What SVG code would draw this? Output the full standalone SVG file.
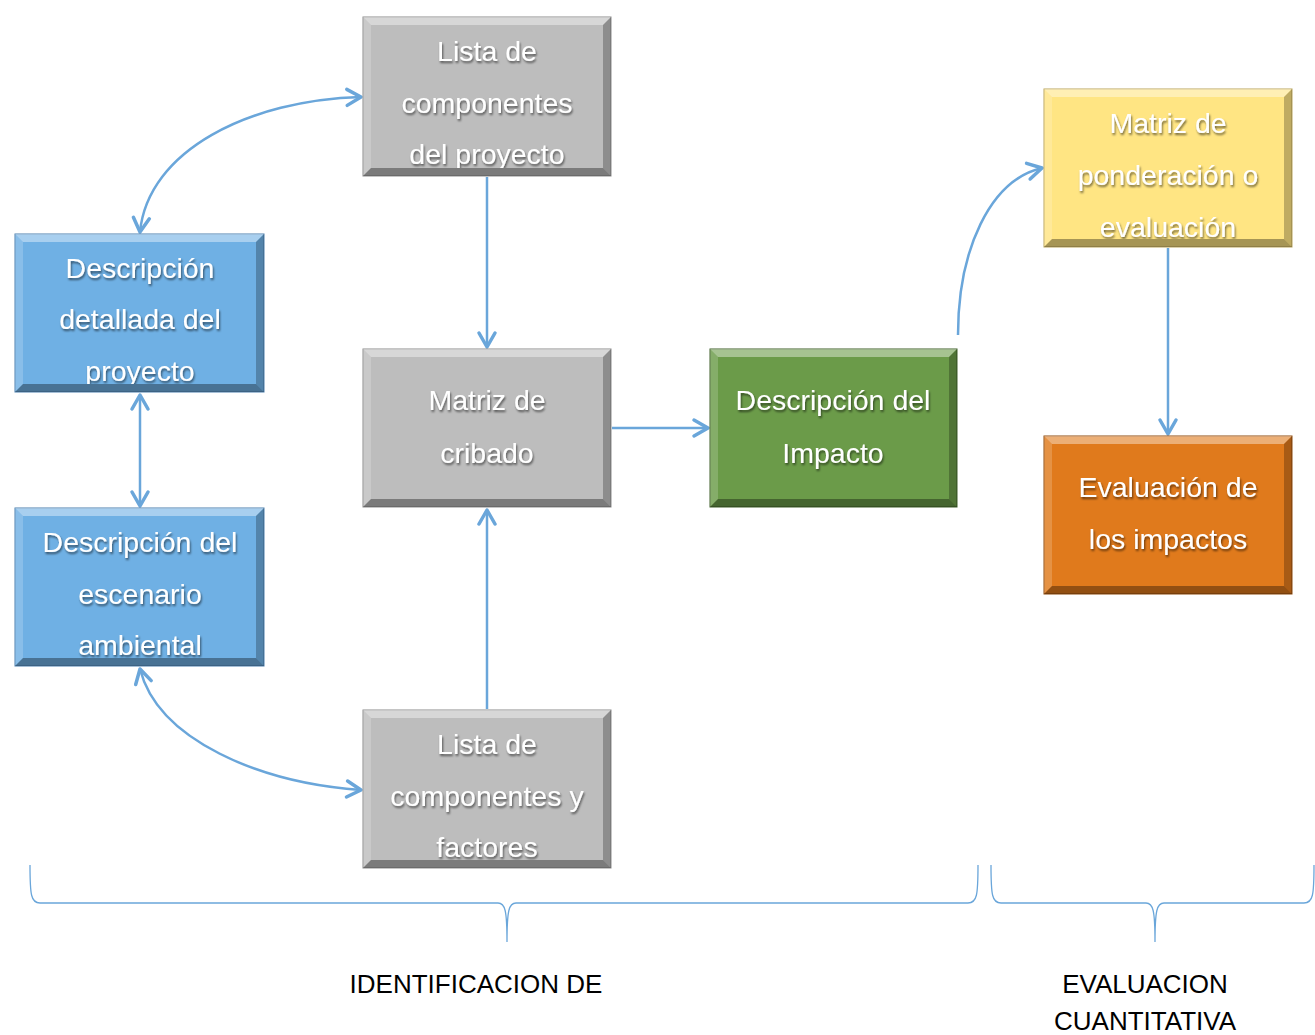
<svg xmlns="http://www.w3.org/2000/svg" width="1315" height="1035" viewBox="0 0 1315 1035">
<style>
.lbl{font-family:"Liberation Sans",Arial,sans-serif;font-size:28.5px;fill:#ffffff;text-anchor:middle;filter:url(#ts)}
.cap{font-family:"Liberation Sans",Arial,sans-serif;font-size:26px;fill:#000000;text-anchor:middle}
.conn{fill:none;stroke:#6aa6da;stroke-width:2.5}
.brace{fill:none;stroke:#6aa6da;stroke-width:1.3}
.hl{fill:#ffffff;opacity:0.4}
.hl2{fill:#ffffff;opacity:0.18}
.sh{fill:#000000;opacity:0.25}
.sh2{fill:#000000;opacity:0.35}
.gray{fill:#bdbdbd;stroke:#8c8c8c}
.blue{fill:#6fb0e4;stroke:#4a7fae}
.green{fill:#6b9b49;stroke:#3e5f28}
.yellow{fill:#ffe583;stroke:#b9a35a}
.orange{fill:#e07a1c;stroke:#8e4a0c}
</style>
<defs>
<filter id="ts" x="-10%" y="-30%" width="120%" height="160%">
<feDropShadow dx="1" dy="2" stdDeviation="1.2" flood-color="#000" flood-opacity="0.55"/>
</filter>
<marker id="ah" viewBox="0 0 22 22" refX="19" refY="11" markerWidth="22" markerHeight="22" markerUnits="userSpaceOnUse" orient="auto-start-reverse">
<path d="M5,3 L19,11 L5,19" fill="none" stroke="#6aa6da" stroke-width="3.5" stroke-linecap="round" stroke-linejoin="round"/>
</marker>
<clipPath id="c1"><rect x="371" y="25" width="232" height="143"/></clipPath>
<clipPath id="c2"><rect x="23" y="242" width="233" height="142"/></clipPath>
<clipPath id="c3"><rect x="23" y="516" width="233" height="142"/></clipPath>
<clipPath id="c4"><rect x="371" y="718" width="232" height="142"/></clipPath>
<clipPath id="c5"><rect x="1052" y="97" width="232" height="142"/></clipPath>
</defs>

<g id="connectors">
<path class="conn" d="M140,232 C148,150 250,100 361,97" marker-start="url(#ah)" marker-end="url(#ah)"/>
<path class="conn" d="M140,395 L140,506" marker-start="url(#ah)" marker-end="url(#ah)"/>
<path class="conn" d="M140,669 C158,740 260,783 361,790" marker-start="url(#ah)" marker-end="url(#ah)"/>
<path class="conn" d="M487,177 L487,347" marker-end="url(#ah)"/>
<path class="conn" d="M487,709 L487,510" marker-end="url(#ah)"/>
<path class="conn" d="M612,428 L708,428" marker-end="url(#ah)"/>
<path class="conn" d="M958,335 C958,250 990,180 1042,168" marker-end="url(#ah)"/>
<path class="conn" d="M1168,248 L1168,434" marker-end="url(#ah)"/>
</g>

<g id="n_lista_proyecto">
<rect class="gray" x="363" y="17" width="248" height="159"/>
<polygon class="hl" points="363,17 611,17 603,25 371,25"/>
<polygon class="hl2" points="363,17 371,25 371,168 363,176"/>
<polygon class="sh" points="611,17 611,176 603,168 603,25"/>
<polygon class="sh2" points="363,176 611,176 603,168 371,168"/>
<g clip-path="url(#c1)">
<text class="lbl" x="487" y="61">Lista de</text>
<text class="lbl" x="487" y="113">componentes</text>
<text class="lbl" x="487" y="164">del proyecto</text>
</g>
</g>

<g id="n_desc_proyecto">
<rect class="blue" x="15" y="234" width="249" height="158"/>
<polygon class="hl" points="15,234 264,234 256,242 23,242"/>
<polygon class="hl2" points="15,234 23,242 23,384 15,392"/>
<polygon class="sh" points="264,234 264,392 256,384 256,242"/>
<polygon class="sh2" points="15,392 264,392 256,384 23,384"/>
<g clip-path="url(#c2)">
<text class="lbl" x="140" y="278">Descripción</text>
<text class="lbl" x="140" y="329">detallada del</text>
<text class="lbl" x="140" y="381">proyecto</text>
</g>
</g>

<g id="n_desc_escenario">
<rect class="blue" x="15" y="508" width="249" height="158"/>
<polygon class="hl" points="15,508 264,508 256,516 23,516"/>
<polygon class="hl2" points="15,508 23,516 23,658 15,666"/>
<polygon class="sh" points="264,508 264,666 256,658 256,516"/>
<polygon class="sh2" points="15,666 264,666 256,658 23,658"/>
<g clip-path="url(#c3)">
<text class="lbl" x="140" y="552">Descripción del</text>
<text class="lbl" x="140" y="604">escenario</text>
<text class="lbl" x="140" y="655">ambiental</text>
</g>
</g>

<g id="n_matriz_cribado">
<rect class="gray" x="363" y="349" width="248" height="158"/>
<polygon class="hl" points="363,349 611,349 603,357 371,357"/>
<polygon class="hl2" points="363,349 371,357 371,499 363,507"/>
<polygon class="sh" points="611,349 611,507 603,499 603,357"/>
<polygon class="sh2" points="363,507 611,507 603,499 371,499"/>
<text class="lbl" x="487" y="410">Matriz de</text>
<text class="lbl" x="487" y="463">cribado</text>
</g>

<g id="n_lista_factores">
<rect class="gray" x="363" y="710" width="248" height="158"/>
<polygon class="hl" points="363,710 611,710 603,718 371,718"/>
<polygon class="hl2" points="363,710 371,718 371,860 363,868"/>
<polygon class="sh" points="611,710 611,868 603,860 603,718"/>
<polygon class="sh2" points="363,868 611,868 603,860 371,860"/>
<g clip-path="url(#c4)">
<text class="lbl" x="487" y="754">Lista de</text>
<text class="lbl" x="487" y="806">componentes y</text>
<text class="lbl" x="487" y="857">factores</text>
</g>
</g>

<g id="n_desc_impacto">
<rect class="green" x="710" y="349" width="247" height="158"/>
<polygon class="hl" points="710,349 957,349 949,357 718,357"/>
<polygon class="hl2" points="710,349 718,357 718,499 710,507"/>
<polygon class="sh" points="957,349 957,507 949,499 949,357"/>
<polygon class="sh2" points="710,507 957,507 949,499 718,499"/>
<text class="lbl" x="833" y="410">Descripción del</text>
<text class="lbl" x="833" y="463">Impacto</text>
</g>

<g id="n_matriz_ponderacion">
<rect class="yellow" x="1044" y="89" width="248" height="158"/>
<polygon class="hl" points="1044,89 1292,89 1284,97 1052,97"/>
<polygon class="hl2" points="1044,89 1052,97 1052,239 1044,247"/>
<polygon class="sh" points="1292,89 1292,247 1284,239 1284,97"/>
<polygon class="sh2" points="1044,247 1292,247 1284,239 1052,239"/>
<g clip-path="url(#c5)">
<text class="lbl" x="1168" y="133">Matriz de</text>
<text class="lbl" x="1168" y="185">ponderación o</text>
<text class="lbl" x="1168" y="237">evaluación</text>
</g>
</g>

<g id="n_evaluacion">
<rect class="orange" x="1044" y="436" width="248" height="158"/>
<polygon class="hl" points="1044,436 1292,436 1284,444 1052,444"/>
<polygon class="hl2" points="1044,436 1052,444 1052,586 1044,594"/>
<polygon class="sh" points="1292,436 1292,594 1284,586 1284,444"/>
<polygon class="sh2" points="1044,594 1292,594 1284,586 1052,586"/>
<text class="lbl" x="1168" y="497">Evaluación de</text>
<text class="lbl" x="1168" y="549">los impactos</text>
</g>

<g id="braces">
<path class="brace" d="M30,865 C30,895 31,903 40,903 L498,903 C505,903 507,910 507,942 C507,910 509,903 516,903 L968,903 C977,903 978,895 978,865"/>
<path class="brace" d="M991,865 C991,895 992,903 1001,903 L1146,903 C1153,903 1155,910 1155,942 C1155,910 1157,903 1164,903 L1304,903 C1313,903 1314,895 1314,865"/>
</g>

<g id="captions">
<text class="cap" x="476" y="993">IDENTIFICACION DE</text>
<text class="cap" x="1145" y="993">EVALUACION</text>
<text class="cap" x="1145" y="1030">CUANTITATIVA</text>
</g>
</svg>
